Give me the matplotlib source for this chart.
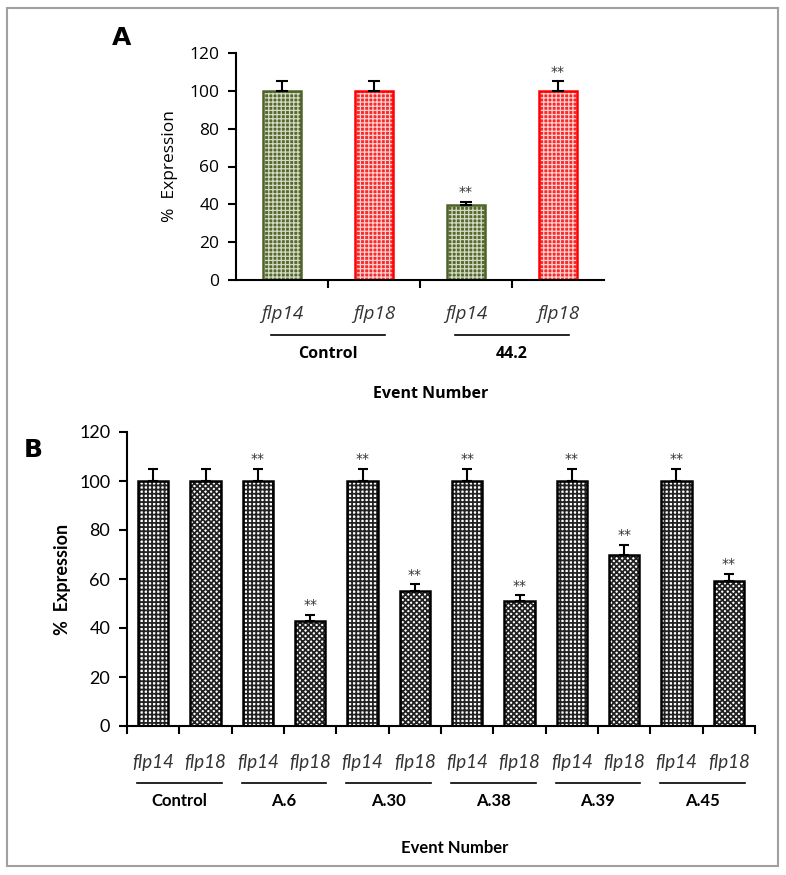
import numpy as np
import matplotlib
matplotlib.use("Agg")
import matplotlib.pyplot as plt
import matplotlib.transforms as mtransforms

# Panel A data
a_genes = ["flp14", "flp18", "flp14", "flp18"]
a_values = [100, 100, 39.5, 100]
a_errors = [5, 5, 1.8, 5]
a_stars = ["", "", "**", "**"]
a_groups = ["Control", "44.2"]

# Panel B data
b_genes = ["flp14", "flp18"] * 6
b_values = [100, 100, 100, 43, 100, 55, 100, 51, 100, 70, 100, 59]
b_errors = [5, 5, 5, 2.5, 5, 2.8, 5, 2.3, 5, 3.8, 5, 3.0]
b_stars = ["", ""] + ["**", "**"] * 5
b_groups = ["Control", "A.6", "A.30", "A.38", "A.39", "A.45"]

fig = plt.figure(figsize=(7.86, 8.75), dpi=100)

# outer grey frame
frame = plt.Rectangle((7 / 786, 9 / 875), 771 / 786, 858 / 875, transform=fig.transFigure,
                      fill=False, edgecolor="#a0a0a0", linewidth=1.5)
fig.patches.append(frame)


def style_axis(ax, font, size):
    ax.spines["top"].set_visible(False)
    ax.spines["right"].set_visible(False)
    ax.spines["left"].set_linewidth(1.5)
    ax.spines["bottom"].set_linewidth(1.5)
    ax.set_ylim(0, 120)
    ax.set_yticks(np.arange(0, 121, 20))
    ax.tick_params(axis="y", direction="out", length=6, width=1.5, labelsize=size, pad=6)
    for lbl in ax.get_yticklabels():
        lbl.set_family(font)


def draw_groups(ax, groups, font, line_y, label_y, half, size):
    trans = mtransforms.blended_transform_factory(ax.transData, ax.transAxes)
    for i, g in enumerate(groups):
        c = 2 * i + 0.5
        ax.plot([c - half, c + half], [line_y, line_y], color="black", lw=1.2,
                transform=trans, clip_on=False)
        ax.text(c, label_y, g, transform=trans, ha="center", va="center",
                fontsize=size, fontweight="bold", family=font)


# ---------------- Panel A ----------------
plt.rcParams["hatch.linewidth"] = 0.9
axA = fig.add_axes([236 / 786, 1 - 280 / 875, 368 / 786, 227 / 875])
xa = np.arange(len(a_values))
a_face = ["#56672f", "#f52a2a", "#56672f", "#f52a2a"]
a_grid = ["#d2dbc2", "#ffd0d0", "#d2dbc2", "#ffd0d0"]
a_edge = ["#4f6228", "#ff0000", "#4f6228", "#ff0000"]
# pale grid over the coloured fill leaves small dark squares, then the outline
axA.bar(xa, a_values, width=0.42, color=a_face, edgecolor=a_grid, hatch="++++", linewidth=0, zorder=2)
axA.bar(xa, a_values, width=0.42, fill=False, edgecolor=a_edge, linewidth=1.8, zorder=2.5)
axA.errorbar(xa, a_values, yerr=[np.zeros(len(a_errors)), a_errors], fmt="none",
             ecolor="black", elinewidth=1.5, capsize=4.5, capthick=1.5, zorder=3)
for x, v, e, s in zip(xa, a_values, a_errors, a_stars):
    if s:
        axA.annotate(s, (x, v + e), xytext=(0, 2), textcoords="offset points",
                     ha="center", va="bottom", fontsize=10, color="#333333")
axA.set_xlim(-0.5, len(a_values) - 0.5)
axA.set_xticks(xa, a_genes, fontsize=13.5, style="italic", family="Open Sans", color="#333333")
axA.set_xticks(np.arange(0.5, len(a_values) - 1, 1), minor=True)
axA.tick_params(axis="x", which="major", length=0, pad=18)
axA.tick_params(axis="x", which="minor", direction="out", length=6, width=1.5)
style_axis(axA, "Open Sans", 12.5)
axA.set_ylabel("%  Expression", fontsize=12.5, family="Open Sans", labelpad=8)
draw_groups(axA, a_groups, "Open Sans", -0.242, -0.326, 0.62, 11.5)
axA.text(1.62, -0.50, "Event Number", transform=mtransforms.blended_transform_factory(axA.transData, axA.transAxes),
         ha="center", va="center", fontsize=11.5, fontweight="bold", family="Open Sans")
fig.text(122 / 786, 1 - 38 / 875, "A", fontsize=18, fontweight="bold", family="DejaVu Sans",
         ha="center", va="center")

# ---------------- Panel B ----------------
plt.rcParams["hatch.linewidth"] = 1.3
axB = fig.add_axes([127 / 786, 1 - 726 / 875, 628 / 786, 294 / 875])
xb = np.arange(len(b_values))
for x, v, g in zip(xb, b_values, b_genes):
    axB.bar(x, v, width=0.58, color="white", edgecolor="#222222",
            hatch="++++" if g == "flp14" else "xxxxxx", linewidth=0, zorder=2)
    axB.bar(x, v, width=0.58, fill=False, edgecolor="black", linewidth=1.8, zorder=2.5)
axB.errorbar(xb, b_values, yerr=[np.zeros(len(b_errors)), b_errors], fmt="none",
             ecolor="black", elinewidth=1.5, capsize=3.8, capthick=1.5, zorder=3)
for x, v, e, s in zip(xb, b_values, b_errors, b_stars):
    if s:
        axB.annotate(s, (x, v + e), xytext=(0, 2), textcoords="offset points",
                     ha="center", va="bottom", fontsize=10, color="#333333")
axB.set_xlim(-0.5, len(b_values) - 0.5)
axB.set_xticks(xb, b_genes, fontsize=13.5, style="italic", family="Lato", color="#333333")
axB.set_xticks(np.arange(-0.5, len(b_values) + 0.5, 1), minor=True)
axB.tick_params(axis="x", which="major", length=0, pad=20)
axB.tick_params(axis="x", which="minor", direction="out", length=6, width=1.5)
style_axis(axB, "Lato", 13)
axB.set_ylabel("%  Expression", fontsize=13, fontweight="bold", family="Lato", labelpad=6)
draw_groups(axB, b_groups, "Lato", -0.194, -0.254, 0.81, 12)
axB.text(5.77, -0.415, "Event Number", transform=mtransforms.blended_transform_factory(axB.transData, axB.transAxes),
         ha="center", va="center", fontsize=12, fontweight="bold", family="Lato")
fig.text(33 / 786, 1 - 450 / 875, "B", fontsize=18, fontweight="bold", family="DejaVu Sans",
         ha="center", va="center")

fig.savefig("out.png", dpi=100)
